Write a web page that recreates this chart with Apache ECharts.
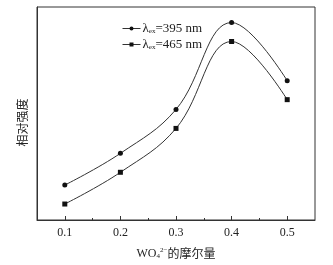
<!DOCTYPE html>
<html><head><meta charset="utf-8">
<script src="https://cdn.jsdelivr.net/npm/echarts@6/dist/echarts.min.js"></script>
<style>html,body{margin:0;padding:0;background:#fff}#c{width:333px;height:265px}</style>
</head><body><div id="c"></div>
<script>
var xValues = [0.1, 0.2, 0.3, 0.4, 0.5];
var series395 = [16.4, 31.3, 51.9, 92.7, 65.4];
var series465 = [7.5, 22.4, 43.0, 83.8, 56.5];
var xTickLabels = [0.1, 0.2, 0.3, 0.4, 0.5];
var xMinorTicks = [0.15, 0.25, 0.35, 0.45];
var seriesNames = ['λex=395 nm', 'λex=465 nm'];

var serif = '"Liberation Serif","DejaVu Serif",serif';
var cjk = '"Noto Sans CJK SC",sans-serif';
var lineColor = '#333';

function pairs(ys){ return xValues.map(function(x,i){return [x, ys[i]];}); }

var chart = echarts.init(document.getElementById('c'));
chart.setOption({
  animation: false,
  grid: {left: 37, right: 18, top: 7, bottom: 44, show: true, borderColor: lineColor, borderWidth: 1, backgroundColor: 'transparent'},
  legend: {
    left: 117, top: 17, orient: 'vertical', itemWidth: 18, itemHeight: 5, itemGap: 3,
    data: seriesNames,
    lineStyle: {width: 1},
    formatter: function(n){ var p = n.split('ex'); return '{a|' + p[0] + '}{s|ex}{a|' + p[1] + '}'; },
    textStyle: {padding: [0,0,0,-3], rich: {
      a: {fontFamily: serif, fontSize: 13, color: '#222'},
      s: {fontFamily: serif, fontSize: 7, color: '#222', verticalAlign: 'bottom', padding: [6,0,0,0]}
    }}
  },
  xAxis: [{
    type: 'value', min: 0.05, max: 0.55,
    axisLine: {show: true, lineStyle: {color: lineColor}},
    axisTick: {show: true, inside: true, length: 4, customValues: xTickLabels, lineStyle: {color: lineColor}},
    axisLabel: {customValues: xTickLabels, formatter: function(v){return v.toFixed(1);}, fontFamily: serif, fontSize: 12, color: '#222', margin: 7},
    splitLine: {show: false},
    name: '{a|WO}{sub|4}{sup|2−}{c|的摩尔量}',
    nameLocation: 'middle', nameGap: 27,
    nameTextStyle: {rich: {
      a: {fontFamily: serif, fontSize: 12, color: '#222'},
      sub: {fontFamily: serif, fontSize: 7, color: '#222', padding: [6,0,0,0]},
      sup: {fontFamily: serif, fontSize: 7, color: '#222', padding: [0,0,6,0]},
      c: {fontFamily: cjk, fontSize: 12, color: '#222'}
    }}
  }, {
    type: 'value', min: 0.05, max: 0.55, position: 'bottom',
    axisLine: {show: false},
    axisTick: {show: true, inside: true, length: 2, customValues: xMinorTicks, lineStyle: {color: lineColor}},
    axisLabel: {show: false},
    splitLine: {show: false}
  }],
  yAxis: {
    type: 'value', min: 0, max: 100,
    axisLine: {show: true, lineStyle: {color: lineColor}},
    axisTick: {show: false}, axisLabel: {show: false}, splitLine: {show: false},
    name: '相对强度', nameLocation: 'middle', nameGap: 9, nameRotate: 90,
    nameTextStyle: {fontFamily: cjk, fontSize: 12, color: '#222', padding: [0, 0, 0, -18]}
  },
  series: [{
    name: seriesNames[0], type: 'line', smooth: 0.4, data: pairs(series395),
    symbol: 'circle', symbolSize: 5,
    lineStyle: {color: lineColor, width: 1}, itemStyle: {color: '#111'}
  }, {
    name: seriesNames[1], type: 'line', smooth: 0.4, data: pairs(series465),
    symbol: 'rect', symbolSize: 5,
    lineStyle: {color: lineColor, width: 1}, itemStyle: {color: '#111'}
  }]
});
</script></body></html>
